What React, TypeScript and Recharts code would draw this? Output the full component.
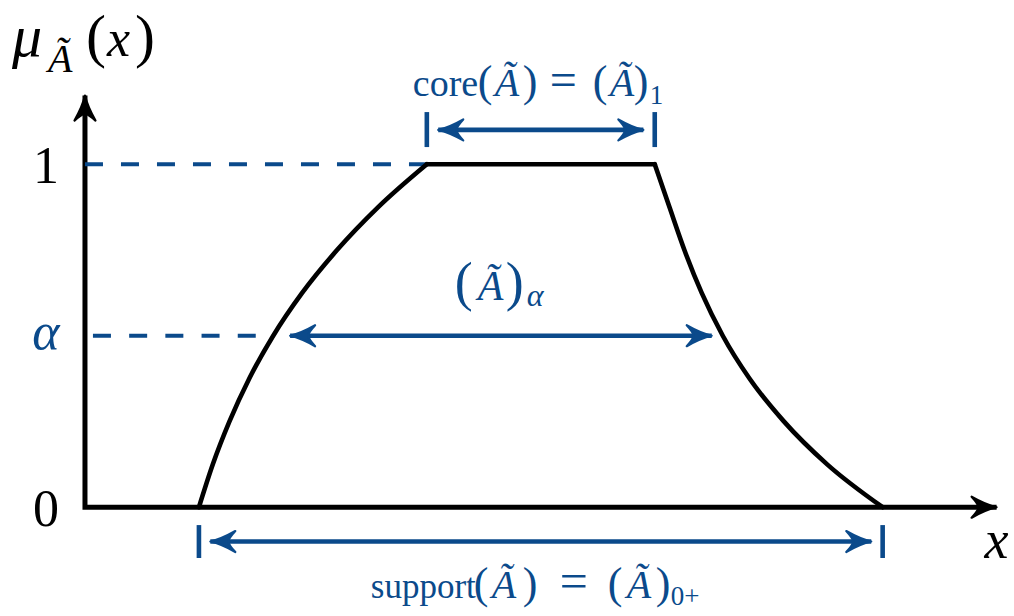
import { LineChart, Line, XAxis, YAxis, ReferenceDot } from 'recharts';

const BLUE = '#0b4a8b';
const INK = '#000000';
const SERIF = "'Liberation Serif', 'Times New Roman', serif";

// membership function mu(x): rising edge, plateau (core), falling edge
const riseEdge = [
  { x: 1.0, y: 0 },
  { x: 1.122, y: 0.125 },
  { x: 1.268, y: 0.25 },
  { x: 1.443, y: 0.376 },
  { x: 1.652, y: 0.5 },
  { x: 1.904, y: 0.624 },
  { x: 2.21, y: 0.749 },
  { x: 2.573, y: 0.875 },
  { x: 3.0, y: 1 },
];
const plateau = [
  { x: 3, y: 1 },
  { x: 5, y: 1 },
];
const fallEdge = [
  { x: 5.0, y: 1 },
  { x: 5.129, y: 0.875 },
  { x: 5.261, y: 0.749 },
  { x: 5.413, y: 0.624 },
  { x: 5.597, y: 0.5 },
  { x: 5.83, y: 0.376 },
  { x: 6.131, y: 0.251 },
  { x: 6.513, y: 0.125 },
  { x: 7.0, y: 0 },
];

const alphaLevel = 0.5;
const coreBounds = [3, 5];
const supportBounds = [1, 7];
const coreTickSpan = [1.05, 1.152];
const supportTickSpan = [-0.148, -0.052];

// y axis top -> origin -> x axis end, arrowheads on the two free ends
const axisPath = [
  { x: 0, y: 1.2, head: 'up' },
  { x: 0, y: 0 },
  { x: 8, y: 0, head: 'right' },
];

const oneGuide = [
  { x: 0, y: 1 },
  { x: coreBounds[0], y: 1 },
];
const alphaGuide = [
  { x: 0.07, y: alphaLevel },
  { x: 1.5, y: alphaLevel },
];

const coreArrow = [
  { x: 3.1, y: 1.1, head: 'left' },
  { x: 4.9, y: 1.1, head: 'right' },
];
const alphaArrow = [
  { x: 1.8, y: alphaLevel, head: 'left' },
  { x: 5.5, y: alphaLevel, head: 'right' },
];
const supportArrow = [
  { x: 1.1, y: -0.1, head: 'left' },
  { x: 6.9, y: -0.1, head: 'right' },
];

const levelLabels = [
  { y: 1, text: '1' },
  { y: alphaLevel, text: 'α' },
  { y: 0, text: '0' },
];

const spanBar = (x: number, span: number[]) => [
  { x, y: span[0] },
  { x, y: span[1] },
];

const HEAD = 'M 0 0 Q -11 -2.5 -25 -10.5 Q -18.5 -3.5 -18 0 Q -18.5 3.5 -25 10.5 Q -11 2.5 0 0 Z';
const ROT: Record<string, number> = { right: 0, left: 180, up: -90 };

function arrowDot(color: string) {
  return (props: any) => {
    const { cx, cy, payload, index } = props;
    if (!payload || !payload.head || cx == null) return <g key={index} />;
    return (
      <path
        key={index}
        d={HEAD}
        transform={`translate(${cx},${cy}) rotate(${ROT[payload.head]})`}
        fill={color}
        stroke={color}
        strokeWidth={2.2}
        strokeLinejoin="round"
      />
    );
  };
}

// one glyph run of a formula: offset from the anchor, size, italic, baseline shift
type Piece = { t: string; dx: number; size: number; it?: boolean; dy?: number };

function Formula({ cx, cy, base, pieces, color }: any) {
  return (
    <text fontFamily={SERIF} fill={color}>
      {pieces.map((p: Piece, i: number) => (
        <tspan
          key={i}
          x={cx + p.dx}
          y={cy + base + (p.dy || 0)}
          fontSize={p.size}
          fontStyle={p.it ? 'italic' : 'normal'}
        >
          {p.t}
        </tspan>
      ))}
    </text>
  );
}

const muPieces: Piece[] = [
  { t: 'μ', dx: -73, size: 60, it: true },
  { t: 'Ã', dx: -37, size: 40, it: true, dy: 16 },
  { t: '(', dx: 1, size: 60 },
  { t: 'x', dx: 22, size: 52, it: true },
  { t: ')', dx: 50, size: 60 },
];

const corePieces: Piece[] = [
  { t: 'core', dx: -128, size: 38 },
  { t: '(', dx: -63, size: 44 },
  { t: 'Ã', dx: -46, size: 40, it: true },
  { t: ')', dx: -18, size: 44 },
  { t: '=', dx: 9, size: 48 },
  { t: '(', dx: 52, size: 44 },
  { t: 'Ã', dx: 69, size: 40, it: true },
  { t: ')', dx: 93, size: 44 },
  { t: '1', dx: 109, size: 27, dy: 8 },
];

const alphaCutPieces: Piece[] = [
  { t: '(', dx: -29, size: 54 },
  { t: 'Ã', dx: -6, size: 42, it: true },
  { t: ')', dx: 22, size: 54 },
  { t: 'α', dx: 43, size: 32, it: true, dy: 6 },
];

const supportPieces: Piece[] = [
  { t: 'support', dx: -170, size: 35 },
  { t: '(', dx: -67, size: 44 },
  { t: 'Ã', dx: -49, size: 40, it: true },
  { t: ')', dx: -18, size: 44 },
  { t: '=', dx: 19, size: 50 },
  { t: '(', dx: 67, size: 44 },
  { t: 'Ã', dx: 86, size: 40, it: true },
  { t: ')', dx: 115, size: 44 },
  { t: '0+', dx: 130, size: 27, dy: 7 },
];

function LevelLabel({ cx, cy, text }: any) {
  const greek = text === 'α';
  return (
    <text
      x={cx}
      y={cy + (greek ? 13 : 19)}
      textAnchor="middle"
      fontFamily={SERIF}
      fontSize={52}
      fontStyle={greek ? 'italic' : 'normal'}
      fill={greek ? BLUE : INK}
    >
      {text}
    </text>
  );
}

export default function App() {
  return (
    <div style={{ position: 'absolute', left: 0, top: 0, background: '#fff' }}>
      <LineChart width={1014} height={616} margin={{ top: 27, right: 6, bottom: 23, left: 28 }}>
        <XAxis type="number" dataKey="x" domain={[-0.5, 8.1]} hide />
        <YAxis type="number" dataKey="y" domain={[-0.25, 1.4]} hide />

        <Line data={axisPath} dataKey="y" type="linear" stroke={INK} strokeWidth={5}
          strokeLinejoin="miter" dot={arrowDot(INK)} activeDot={false} isAnimationActive={false} />

        <Line data={oneGuide} dataKey="y" type="linear" stroke={BLUE} strokeWidth={4}
          strokeDasharray="18 18" dot={false} activeDot={false} isAnimationActive={false} />
        <Line data={alphaGuide} dataKey="y" type="linear" stroke={BLUE} strokeWidth={4}
          strokeDasharray="18 18.2" dot={false} activeDot={false} isAnimationActive={false} />

        <Line data={riseEdge} dataKey="y" type="monotone" stroke={INK} strokeWidth={4.6}
          strokeLinecap="round" dot={false} activeDot={false} isAnimationActive={false} />
        <Line data={plateau} dataKey="y" type="linear" stroke={INK} strokeWidth={4.6}
          strokeLinecap="round" dot={false} activeDot={false} isAnimationActive={false} />
        <Line data={fallEdge} dataKey="y" type="monotone" stroke={INK} strokeWidth={4.6}
          strokeLinecap="round" dot={false} activeDot={false} isAnimationActive={false} />

        {[coreArrow, alphaArrow, supportArrow].map((arrow, i) => (
          <Line key={`arrow-${i}`} data={arrow} dataKey="y" type="linear" stroke={BLUE} strokeWidth={4.6}
            dot={arrowDot(BLUE)} activeDot={false} isAnimationActive={false} />
        ))}
        {coreBounds.map((x) => (
          <Line key={`core-${x}`} data={spanBar(x, coreTickSpan)} dataKey="y" type="linear"
            stroke={BLUE} strokeWidth={4.6} dot={false} activeDot={false} isAnimationActive={false} />
        ))}
        {supportBounds.map((x) => (
          <Line key={`support-${x}`} data={spanBar(x, supportTickSpan)} dataKey="y" type="linear"
            stroke={BLUE} strokeWidth={4.6} dot={false} activeDot={false} isAnimationActive={false} />
        ))}

        {levelLabels.map((l) => (
          <ReferenceDot key={l.text} x={-0.342} y={l.y} r={0} ifOverflow="visible"
            shape={(p: any) => <LevelLabel {...p} text={l.text} />} />
        ))}
        <ReferenceDot x={0} y={1.2} r={0} ifOverflow="visible"
          shape={(p: any) => <Formula cx={p.cx} cy={p.cy} base={-40} pieces={muPieces} color={INK} />} />
        <ReferenceDot x={4} y={1.1} r={0} ifOverflow="visible"
          shape={(p: any) => <Formula cx={p.cx} cy={p.cy} base={-34} pieces={corePieces} color={BLUE} />} />
        <ReferenceDot x={3.5} y={alphaLevel} r={0} ifOverflow="visible"
          shape={(p: any) => <Formula cx={p.cx} cy={p.cy} base={-36} pieces={alphaCutPieces} color={BLUE} />} />
        <ReferenceDot x={4} y={-0.1} r={0} ifOverflow="visible"
          shape={(p: any) => <Formula cx={p.cx} cy={p.cy} base={56} pieces={supportPieces} color={BLUE} />} />
        <ReferenceDot x={8} y={0} r={0} ifOverflow="visible"
          shape={(p: any) => (
            <text x={p.cx} y={p.cy + 51} textAnchor="middle" fontFamily={SERIF} fontSize={54}
              fontStyle="italic" fill={INK}>x</text>
          )} />
      </LineChart>
    </div>
  );
}
